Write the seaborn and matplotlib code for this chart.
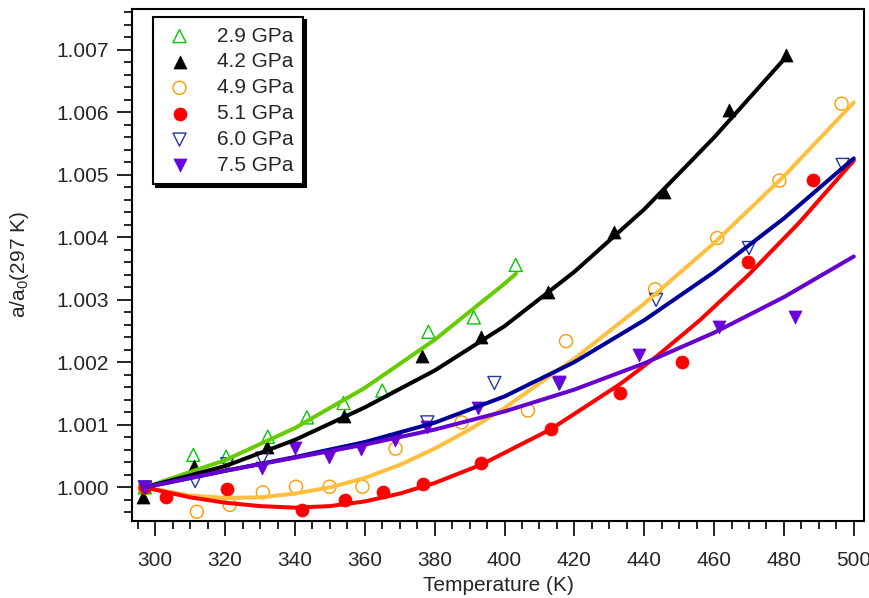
import numpy as np
import matplotlib
matplotlib.use('Agg')
import matplotlib.pyplot as plt
import seaborn as sns

sns.set_theme(style='ticks')
plt.rcParams['font.family'] = ['Liberation Sans', 'DejaVu Sans']
plt.rcParams['mathtext.fontset'] = 'custom'
plt.rcParams['mathtext.rm'] = 'Liberation Sans'
plt.rcParams['mathtext.it'] = 'Liberation Sans'

T_29 = [297, 310.9, 320.3, 332.2, 343.4, 353.9, 365.0, 378.2, 391.2, 403.2]
a_29 = [1.00000, 1.00052, 1.00049, 1.00081, 1.00112, 1.00135, 1.00155, 1.00249, 1.00272, 1.00356]

T_42 = [296.6, 311.0, 331.9, 353.9, 376.3, 393.3, 412.4, 431.4, 445.6, 464.3, 480.7]
a_42 = [0.99985, 1.00034, 1.00065, 1.00114, 1.00210, 1.00240, 1.00313, 1.00408, 1.00473, 1.00604, 1.00692]

T_49 = [297, 311.9, 321.3, 330.8, 340.3, 349.9, 359.3, 368.8, 387.7, 406.7, 417.6, 443.1, 460.9, 478.7, 496.5]
a_49 = [1.00000, 0.99961, 0.99972, 0.99992, 1.00001, 1.00001, 1.00001, 1.00062, 1.00104, 1.00123, 1.00234,
        1.00317, 1.00399, 1.00491, 1.00614]

T_51 = [297, 303.2, 320.5, 342.0, 354.4, 365.3, 376.6, 393.4, 413.2, 433.0, 450.9, 469.6, 488.4]
a_51 = [1.00000, 0.99985, 0.99998, 0.99964, 0.99980, 0.99993, 1.00006, 1.00039, 1.00093, 1.00151, 1.00201,
        1.00360, 1.00492]

T_60 = [297, 311.4, 320.6, 330.6, 377.9, 397.1, 415.7, 443.4, 470.0, 496.8]
a_60 = [1.00000, 1.00010, 1.00037, 1.00046, 1.00104, 1.00167, 1.00166, 1.00300, 1.00383, 1.00516]

T_75 = [297, 330.5, 340.1, 349.6, 358.8, 368.7, 377.7, 392.5, 415.7, 438.6, 461.4, 483.1]
a_75 = [1.00000, 1.00031, 1.00063, 1.00048, 1.00062, 1.00076, 1.00096, 1.00127, 1.00169, 1.00212, 1.00257, 1.00272]

# fitted curves
fitT_29 = [297, 320, 340, 360, 380, 400, 403.3]
fit_29 = [1.00000, 1.000435, 1.00095, 1.001592, 1.002362, 1.00326, 1.00342]

fitT_42 = [297, 320, 340, 360, 380, 400, 420, 440, 460, 480.5]
fit_42 = [1.00000, 1.00034, 1.00076, 1.00128, 1.00187, 1.00258, 1.00345, 1.00445, 1.00560, 1.00688]

fitT_49 = [297, 310, 320, 330, 340, 350, 360, 370, 380, 390, 400, 420, 440, 460, 480, 500]
fit_49 = [1.00000, 0.99987, 0.99983, 0.99984, 0.99990, 1.00000, 1.00015, 1.00036, 1.00062, 1.000925, 1.00127,
          1.00206, 1.00294, 1.00391, 1.00498, 1.00616]

fitT_51 = [297, 310, 320, 330, 340, 350, 360, 370, 380, 393.4, 413.2, 433.2, 443.6, 455.9, 469.7, 484.5, 500]
fit_51 = [1.00000, 0.99984, 0.999755, 0.99970, 0.999675, 0.99970, 0.999775, 0.99990, 1.00007, 1.000365,
          1.000929, 1.001657, 1.002098, 1.002674, 1.003392, 1.004244, 1.00523]

fitT_60 = [297, 320, 340, 360, 380, 400, 420, 440, 460, 480, 500]
fit_60 = [1.00000, 1.000265, 1.000485, 1.000725, 1.001035, 1.001455, 1.002005, 1.002675, 1.003445, 1.004305,
          1.005265]

fitT_75 = [297, 320, 340, 360, 380, 400, 420, 440, 460, 480, 500]
fit_75 = [1.00000, 1.000265, 1.000475, 1.000685, 1.000925, 1.001215, 1.001565, 1.001985, 1.002475, 1.003045,
          1.003695]

labels = ['2.9 GPa', '4.2 GPa', '4.9 GPa', '5.1 GPa', '6.0 GPa', '7.5 GPa']

series = [(T_29, a_29), (T_42, a_42), (T_49, a_49), (T_51, a_51), (T_60, a_60), (T_75, a_75)]
fits = [(fitT_29, fit_29), (fitT_42, fit_42), (fitT_49, fit_49), (fitT_51, fit_51),
        (fitT_60, fit_60), (fitT_75, fit_75)]
markers = ['^', '^', 'o', 'o', 'v', 'v']
filled = [False, True, False, True, False, True]
mcolors = ['#00c800', 'black', '#ff9a00', '#ff0000', '#1f3a9e', '#6a00e0']
lcolors = ['#66cc00', 'black', '#ffbf3f', '#ff0000', '#000099', '#6600cc']

fig, ax = plt.subplots(figsize=(8.7, 5.98), dpi=100)
fig.subplots_adjust(left=0.152, right=0.993, bottom=0.129, top=0.985)

for (T, a), lab, m, f, mc in zip(series, labels, markers, filled, mcolors):
    if f:
        sns.scatterplot(x=T, y=a, marker=m, s=88, color=mc, edgecolor=mc,
                        linewidth=0.5, ax=ax, label=lab, zorder=3)
    else:
        sns.scatterplot(x=T, y=a, marker=m, s=88, facecolor='none', edgecolor=mc,
                        linewidth=1.0, ax=ax, label=lab, zorder=3)

for (fT, fa), lc in zip(fits, lcolors):
    sns.lineplot(x=fT, y=fa, color=lc, linewidth=2.9, ax=ax, legend=False, zorder=4,
                 sort=False, estimator=None, solid_joinstyle='round', solid_capstyle='round')

ax.set_xlim(293.4, 502.9)
ax.set_ylim(0.999464, 1.007656)
ax.set_xticks(np.arange(300, 501, 20))
ax.set_xticks(np.arange(295, 501, 5), minor=True)
ax.set_yticks(np.arange(1.000, 1.0071, 0.001))
ax.set_yticks(np.arange(0.9996, 1.0077, 0.0002), minor=True)
ax.set_yticklabels(['%.3f' % v for v in np.arange(1.000, 1.0071, 0.001)])
ax.tick_params(which='major', direction='out', length=11, width=1.2, labelsize=15, color='black',
               top=False, right=False)
ax.tick_params(axis='y', which='major', pad=6)
ax.tick_params(axis='x', which='major', pad=11)
ax.tick_params(which='minor', direction='out', length=6, width=1.2, color='black', top=False, right=False)
for sp in ax.spines.values():
    sp.set_linewidth(1.5)
    sp.set_color('black')

ax.set_xlabel('Temperature (K)', fontsize=15, labelpad=4)
ax.set_ylabel(r'a/a$_0$(297 K)', fontsize=15, labelpad=18)

leg = ax.legend(loc='upper left', bbox_to_anchor=(0.029, 0.984), borderaxespad=0, fontsize=15,
                frameon=True, fancybox=False, shadow={'color': 'black', 'alpha': 1},
                edgecolor='black', framealpha=1, handletextpad=1.0, labelspacing=0.33,
                borderpad=0.45, handlelength=1.6)
leg.get_frame().set_linewidth(1.5)

fig.savefig('out.png', dpi=100)
